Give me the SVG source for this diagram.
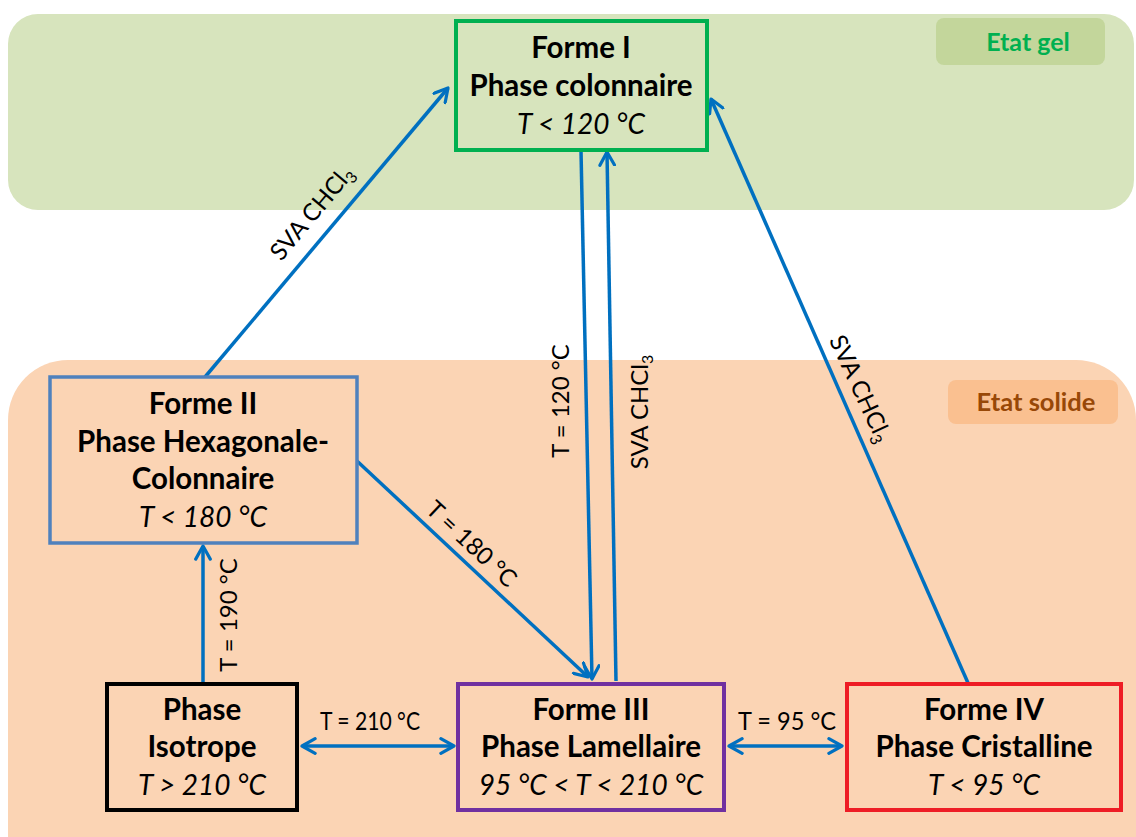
<svg xmlns="http://www.w3.org/2000/svg" width="1136" height="837" viewBox="0 0 1136 837">
<defs>
<style>
.box{font-family:Lato,"Open Sans","Liberation Sans",sans-serif;font-size:29.5px;text-anchor:middle;fill:#000}
.b{font-weight:bold}
.i{font-style:italic;font-size:28px}
.lbl{font-family:Lato,"Open Sans","Liberation Sans",sans-serif;font-size:22px;text-anchor:middle;fill:#000}
.r{font-size:24px}
.h{font-size:25px}
.c{stroke:#0070c0;stroke-width:3.5;fill:none}
</style>
<marker id="ah" viewBox="0 0 12 12" refX="10" refY="6" markerWidth="5" markerHeight="5" markerUnits="strokeWidth" orient="auto-start-reverse">
<path d="M1,1 L10,6 L1,11" fill="none" stroke="#0070c0" stroke-width="2.2" stroke-linecap="round" stroke-linejoin="round"/>
</marker>
</defs>
<rect width="1136" height="837" fill="#fff"/>
<g id="band-gel">
<rect x="8" y="14" width="1126" height="196" rx="30" fill="#d7e4bd"/>
<rect x="936" y="18" width="169" height="47" rx="8" fill="#c3d69b"/>
<text x="1028" y="51" style="font-family:Lato,'Open Sans',sans-serif;font-size:25px;font-weight:bold;fill:#00b050;text-anchor:middle">Etat gel</text>
</g>
<g id="band-solide">
<rect x="8" y="360" width="1128" height="540" rx="60" fill="#fbd4b4"/>
<rect x="948" y="380" width="170" height="44" rx="8" fill="#fac090"/>
<text x="1036" y="411" style="font-family:Lato,'Open Sans',sans-serif;font-size:25.5px;font-weight:bold;fill:#984807;text-anchor:middle">Etat solide</text>
</g>
<g id="connectors">
<line class="c" x1="205" y1="377" x2="448" y2="88" marker-end="url(#ah)"/>
<line class="c" x1="581" y1="151" x2="592" y2="679" marker-end="url(#ah)"/>
<line class="c" x1="616" y1="681" x2="607" y2="152" marker-end="url(#ah)"/>
<line class="c" x1="968" y1="683" x2="711" y2="99" marker-end="url(#ah)"/>
<line class="c" x1="357" y1="461" x2="588" y2="677" marker-end="url(#ah)"/>
<line class="c" x1="203" y1="683" x2="203" y2="546" marker-end="url(#ah)"/>
<line class="c" x1="302" y1="746" x2="454" y2="746" marker-start="url(#ah)" marker-end="url(#ah)"/>
<line class="c" x1="729" y1="746" x2="842" y2="746" marker-start="url(#ah)" marker-end="url(#ah)"/>
<text class="lbl r" transform="translate(318,218) rotate(-50)">SVA CHCl<tspan font-size="16" dy="5">3</tspan></text>
<text class="lbl r" transform="translate(569,401) rotate(-90)">T = 120 °C</text>
<text class="lbl r" transform="translate(648,412) rotate(-90)">SVA CHCl<tspan font-size="16" dy="5">3</tspan></text>
<text class="lbl r" transform="translate(853,392) rotate(65)">SVA CHCl<tspan font-size="16" dy="5">3</tspan></text>
<text class="lbl r" transform="translate(466,550) rotate(43)">T = 180 °C</text>
<text class="lbl r" transform="translate(237,615) rotate(-90)">T = 190 °C</text>
<text class="lbl h" x="370" y="730" textLength="100" lengthAdjust="spacingAndGlyphs">T = 210 °C</text>
<text class="lbl h" x="787" y="730" textLength="98" lengthAdjust="spacingAndGlyphs">T = 95 °C</text>
</g>
<g id="forme1">
<rect x="456" y="21" width="251" height="129" fill="#d7e4bd" stroke="#00b050" stroke-width="4"/>
<text class="box b" x="581" y="58">Forme I</text>
<text class="box b" x="581" y="96">Phase colonnaire</text>
<text class="box i" x="581" y="134">T &lt; 120 °C</text>
</g>
<g id="forme2">
<rect x="50" y="377" width="307" height="166" fill="#fbd4b4" stroke="#4f81bd" stroke-width="3.5"/>
<text class="box b" x="203" y="414">Forme II</text>
<text class="box b" x="203" y="452">Phase Hexagonale-</text>
<text class="box b" x="203" y="489">Colonnaire</text>
<text class="box i" x="203" y="527">T &lt; 180 °C</text>
</g>
<g id="isotrope">
<rect x="107" y="684" width="190" height="126" fill="#fbd4b4" stroke="#000" stroke-width="4"/>
<text class="box b" x="202" y="720">Phase</text>
<text class="box b" x="202" y="757">Isotrope</text>
<text class="box i" x="202" y="795">T &gt; 210 °C</text>
</g>
<g id="forme3">
<rect x="458" y="684" width="266" height="126" fill="#fbd4b4" stroke="#7030a0" stroke-width="4"/>
<text class="box b" x="591" y="720">Forme III</text>
<text class="box b" x="591" y="757">Phase Lamellaire</text>
<text class="box i" x="591" y="795">95 °C &lt; T &lt; 210 °C</text>
</g>
<g id="forme4">
<rect x="847" y="684" width="274" height="126" fill="#fbd4b4" stroke="#ee1c25" stroke-width="4"/>
<text class="box b" x="984" y="720">Forme IV</text>
<text class="box b" x="984" y="757">Phase Cristalline</text>
<text class="box i" x="984" y="795">T &lt; 95 °C</text>
</g>
</svg>
